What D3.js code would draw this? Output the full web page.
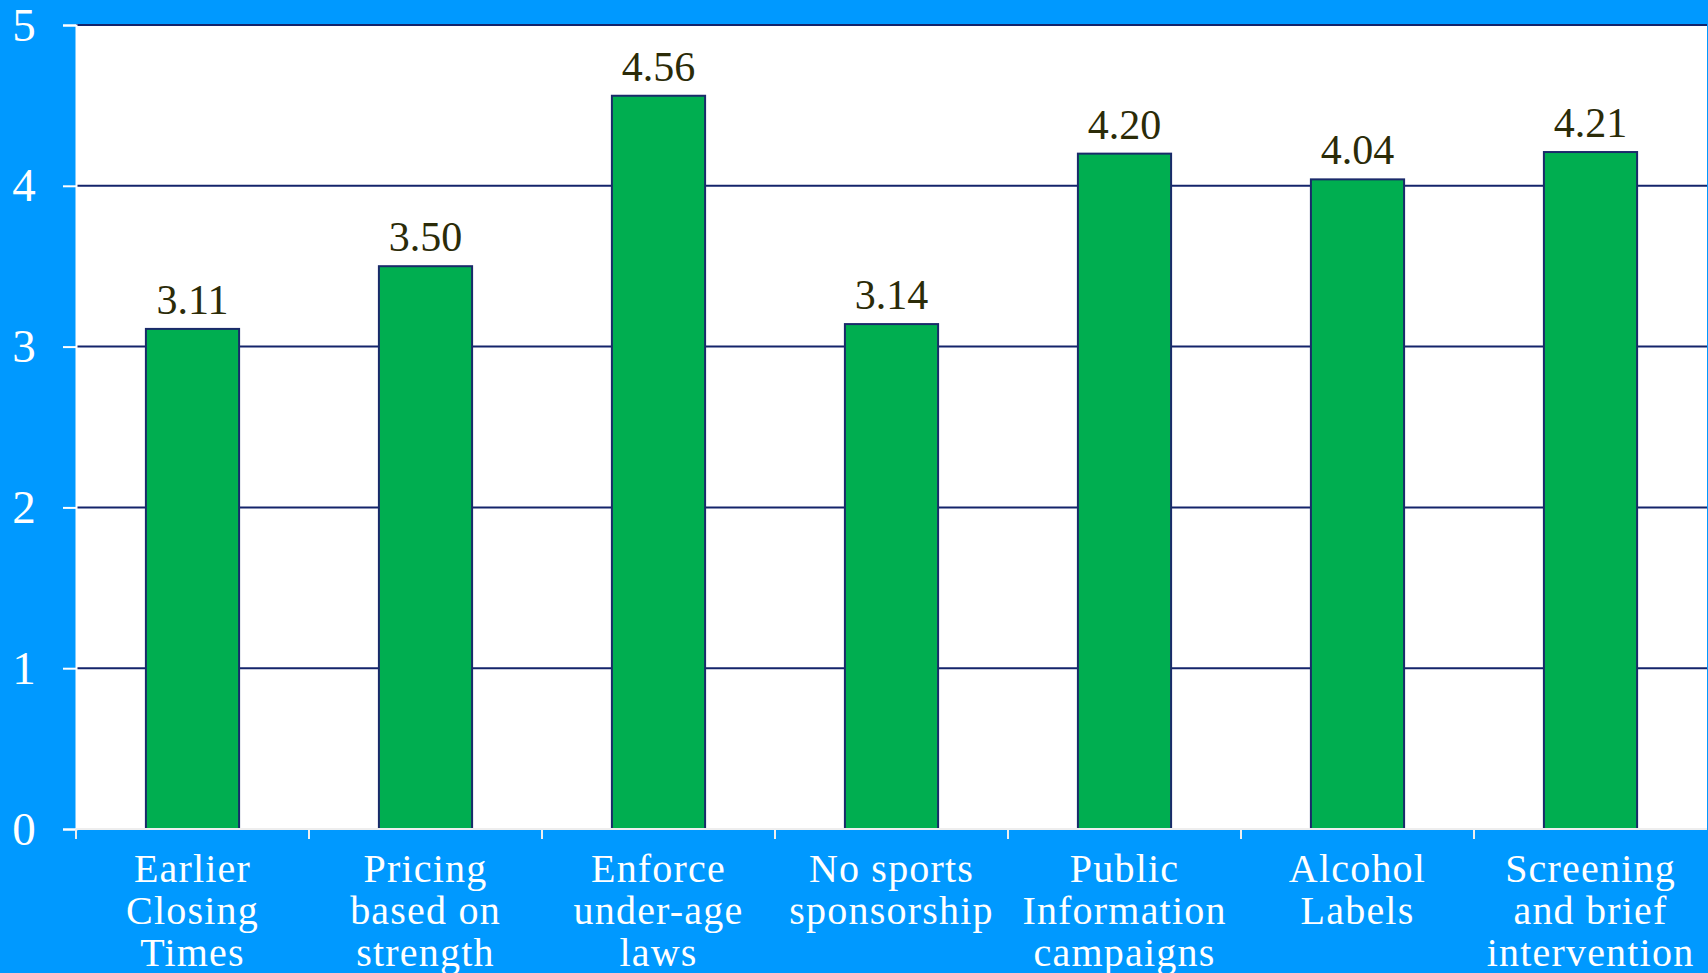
<!DOCTYPE html>
<html>
<head>
<meta charset="utf-8">
<script src="https://cdn.jsdelivr.net/npm/d3@7"></script>
<style>
  html, body { margin: 0; padding: 0; background: #0099ff; overflow: hidden; }
  svg { display: block; }
</style>
</head>
<body>
<div id="chart"></div>
<script>
// data
const categories = [
    ["Earlier", "Closing", "Times"],
    ["Pricing", "based on", "strength"],
    ["Enforce", "under-age", "laws"],
    ["No sports", "sponsorship"],
    ["Public", "Information", "campaigns"],
    ["Alcohol", "Labels"],
    ["Screening", "and brief", "intervention"]
];
const values = [3.11, 3.50, 4.56, 3.14, 4.20, 4.04, 4.21];
const yTicks = [0, 1, 2, 3, 4, 5];

const W = 1708, H = 973;
const margin = {top: 25, right: 1, bottom: 144, left: 76};
const width = W - margin.left - margin.right;
const height = H - margin.top - margin.bottom;

const svg = d3.select("#chart")
    .append("svg")
    .attr("width", W)
    .attr("height", H);

const g = svg.append("g")
    .attr("transform", `translate(${margin.left},${margin.top})`);

// x scale, one band per category
const x = d3.scaleBand()
    .domain(d3.range(categories.length))
    .range([0, width])
    .paddingInner(0.6)
    .paddingOuter(0.3);

const y = d3.scaleLinear()
    .domain([0, 5])
    .range([height, 0]);

// white plot area
g.append("rect")
    .attr("width", width)
    .attr("height", height)
    .attr("fill", "#ffffff");

// gridlines
g.append("g")
    .selectAll("line")
    .data(yTicks.filter(d => d > 0))
    .join("line")
    .attr("x1", 0)
    .attr("x2", width)
    .attr("y1", d => y(d))
    .attr("y2", d => y(d))
    .attr("stroke", "#14246b")
    .attr("stroke-width", 2);

// bars
g.append("g")
    .selectAll("rect")
    .data(values)
    .join("rect")
    .attr("x", (d, i) => x(i))
    .attr("y", d => y(d))
    .attr("width", x.bandwidth())
    .attr("height", d => height - y(d))
    .attr("fill", "#00ae50")
    .attr("stroke", "#1a2a6a")
    .attr("stroke-width", 2);

// value labels
g.append("g")
    .selectAll("text")
    .data(values)
    .join("text")
    .attr("x", (d, i) => x(i) + x.bandwidth() / 2)
    .attr("y", d => y(d) - 15)
    .attr("text-anchor", "middle")
    .attr("font-family", "Liberation Serif, serif")
    .attr("font-size", 42)
    .attr("fill", "#2b2b08")
    .text(d => d.toFixed(2));

// y axis
const yAxis = g.append("g")
    .call(d3.axisLeft(y).tickValues(yTicks).tickSize(13).tickPadding(26).tickFormat(d3.format("d")));
yAxis.select(".domain").attr("stroke", "#ffffff").attr("stroke-width", 2);
yAxis.selectAll(".tick line").attr("stroke", "#ffffff").attr("stroke-width", 2);
yAxis.selectAll(".tick text")
    .attr("fill", "#ffffff")
    .attr("font-family", "Liberation Serif, serif")
    .attr("font-size", 47)
    .attr("text-anchor", "middle")
    .attr("x", -52)
    .attr("dy", "0.32em");

// x axis, ticks on band boundaries
const xb = d3.scaleLinear().domain([0, categories.length]).range([0, width]);
const xAxis = g.append("g")
    .attr("transform", `translate(0,${height})`);
xAxis.append("line")
    .attr("x1", 0).attr("x2", width)
    .attr("stroke", "#eeeeee")
    .attr("stroke-width", 2);
xAxis.selectAll(".xtick")
    .data(d3.range(categories.length))
    .join("line")
    .attr("class", "xtick")
    .attr("x1", d => xb(d))
    .attr("x2", d => xb(d))
    .attr("y1", 0)
    .attr("y2", 10)
    .attr("stroke", "#eeeeee")
    .attr("stroke-width", 2);

const labels = xAxis.selectAll(".xlabel")
    .data(categories)
    .join("text")
    .attr("class", "xlabel")
    .attr("text-anchor", "middle")
    .attr("font-family", "Liberation Serif, serif")
    .attr("font-size", 40)
    .attr("letter-spacing", 1.2)
    .attr("fill", "#ffffff")
    .attr("transform", (d, i) => `translate(${x(i) + x.bandwidth() / 2},53)`);
labels.selectAll("tspan")
    .data(d => d)
    .join("tspan")
    .attr("x", 0)
    .attr("y", (d, i) => i * 42)
    .text(d => d);
</script>
</body>
</html>
